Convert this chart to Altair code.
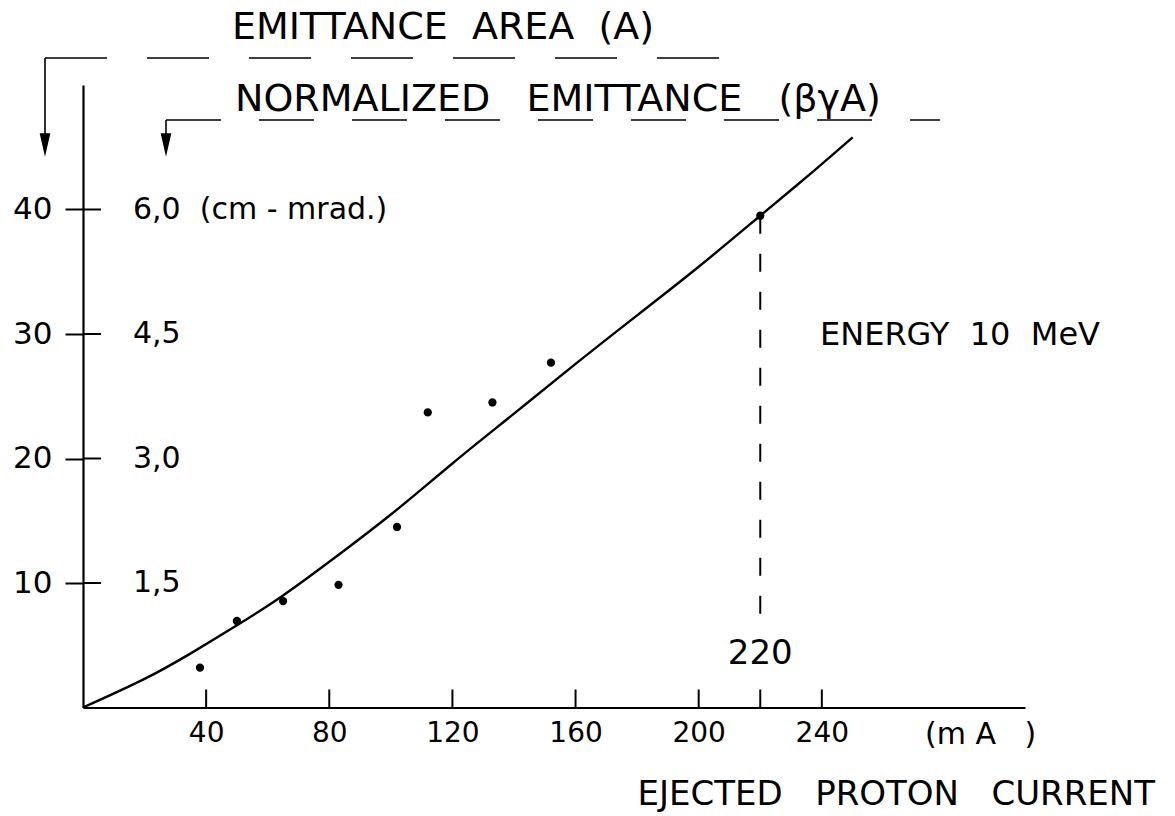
import altair as alt
import pandas as pd

FONT = "DejaVu Sans"
INK = "#000000"
SP = "\u00a0"  # non-breaking space keeps the wide lettering gaps

# Measured emittance area versus ejected proton current
point_current = [38, 50, 65, 83, 102, 112, 133, 152, 220]
point_area = [3.2, 6.95, 8.55, 9.85, 14.5, 23.7, 24.5, 27.7, 39.5]

# Fitted curve through the measurements
curve_current = [0, 20, 35, 50, 65, 80, 100, 120, 140, 160, 180, 200, 220, 235, 250]
curve_area = [0, 2.3, 4.35, 6.6, 9.0, 11.7, 15.5, 19.6, 23.6, 27.6, 31.5, 35.4, 39.5, 42.6, 45.8]

# Axis ticks
x_ticks = [40, 80, 120, 160, 200, 220, 240]
y_ticks = [10, 20, 30, 40]
# Normalized emittance (beta*gamma*A) scale printed beside the area ticks
norm_labels = ["1,5", "3,0", "4,5", "6,0" + SP * 2 + "(cm - mrad.)"]

# Drop line from the 220 mA point
marker_current = [220]
marker_top = [39.5]
marker_bottom = [6.4]

W, H = 942, 622.5

xs = alt.Scale(domain=[0, 306], nice=False, zero=True)
ys = alt.Scale(domain=[0, 50], nice=False, zero=True)

df_curve = pd.DataFrame({"current": curve_current, "area": curve_area})
df_pts = pd.DataFrame({"current": point_current, "area": point_area})
df_xt = pd.DataFrame({"current": x_ticks})
df_yt = pd.DataFrame({"area": y_ticks, "label": norm_labels})
df_mk = pd.DataFrame({"current": marker_current, "top": marker_top, "bottom": marker_bottom})

curve = alt.Chart(df_curve).mark_line(
    color=INK, strokeWidth=2.4, interpolate="natural"
).encode(
    x=alt.X("current:Q", scale=xs, axis=alt.Axis(
        values=x_ticks, ticks=False, grid=False, title=None,
        labelExpr="datum.value == 220 ? '' : datum.label",
        labelFont=FONT, labelFontSize=28, labelColor=INK, labelPadding=12,
        domainColor=INK, domainWidth=2.2)),
    y=alt.Y("area:Q", scale=ys, axis=alt.Axis(
        values=y_ticks, grid=False, title=None, tickSize=18, tickWidth=2,
        tickColor=INK, labelFont=FONT, labelFontSize=31, labelColor=INK,
        labelPadding=13, domainColor=INK, domainWidth=2.2)),
)

points = alt.Chart(df_pts).mark_circle(size=68, color=INK, opacity=1).encode(
    x=alt.X("current:Q", scale=xs), y=alt.Y("area:Q", scale=ys)
)

# x ticks pointing up into the plot
xt = alt.Chart(df_xt).mark_rule(color=INK, strokeWidth=2).encode(
    x=alt.X("current:Q", scale=xs), y=alt.value(H), y2=alt.value(H - 18)
)

# inner half of the crossing y ticks
yt = alt.Chart(df_yt).mark_rule(color=INK, strokeWidth=2).encode(
    y=alt.Y("area:Q", scale=ys), x=alt.value(0), x2=alt.value(18)
)

norm = alt.Chart(df_yt).mark_text(
    font=FONT, fontSize=30, color=INK, align="left", baseline="middle"
).encode(y=alt.Y("area:Q", scale=ys), x=alt.value(50), text="label:N")

drop = alt.Chart(df_mk).mark_rule(color=INK, strokeWidth=2, strokeDash=[18, 20]).encode(
    x=alt.X("current:Q", scale=xs), y=alt.Y("top:Q", scale=ys), y2="bottom:Q"
)

drop_label = alt.Chart(df_mk).mark_text(
    font=FONT, fontSize=34, color=INK, align="center", baseline="middle"
).encode(x=alt.X("current:Q", scale=xs), y=alt.value(569), text=alt.Text("current:Q"))


def label(text, x, y, size, align="left"):
    return alt.Chart(pd.DataFrame({"t": [text]})).mark_text(
        font=FONT, fontSize=size, color=INK, align=align, baseline="middle"
    ).encode(x=alt.value(x), y=alt.value(y), text="t:N")


def hline(x1, x2, y, dash):
    return alt.Chart(pd.DataFrame({"k": [0]})).mark_rule(
        color=INK, strokeWidth=1.6, strokeDash=dash
    ).encode(x=alt.value(x1), x2=alt.value(x2), y=alt.value(y))


def vline(x, y1, y2):
    return alt.Chart(pd.DataFrame({"k": [0]})).mark_rule(
        color=INK, strokeWidth=1.6
    ).encode(x=alt.value(x), y=alt.value(y1), y2=alt.value(y2))


def arrow(x, y):
    return alt.Chart(pd.DataFrame({"k": [0]})).mark_point(
        shape="M -0.45 -1 L 0.45 -1 L 0 1 Z", filled=True, color=INK,
        size=560, opacity=1
    ).encode(x=alt.value(x), y=alt.value(y))


def spaced(*words, gap=2):
    return (SP * gap).join(words)


layers = [
    curve, points, xt, yt, norm, drop, drop_label,
    label(spaced("EMITTANCE", "AREA", "(A)"), 149, -57, 38),
    label(spaced("NORMALIZED", "EMITTANCE", "(\u03b2\u03b3A)", gap=3), 152, 15, 38),
    label(spaced("ENERGY", "10", "MeV"), 737, 250, 32),
    label("(m" + SP + "A" + SP * 3 + ")", 842, 650, 30),
    label(spaced("EJECTED", "PROTON", "CURRENT", gap=3), 1072, 710, 34, align="right"),
    hline(-38, 667, -27, [62, 40]),
    vline(-38, -27, 50),
    arrow(-38, 60),
    hline(83, 857, 35, [55, 38]),
    vline(83, 35, 50),
    arrow(83, 60),
]

chart = alt.layer(*layers).properties(
    width=W,
    height=H,
    padding={"left": 83, "top": 85, "right": 150, "bottom": 108},
    autosize=alt.AutoSizeParams(type="none"),
    background="white",
).configure_view(stroke=None)

chart.save("out.html", embed_options={"renderer": "svg", "actions": False})
